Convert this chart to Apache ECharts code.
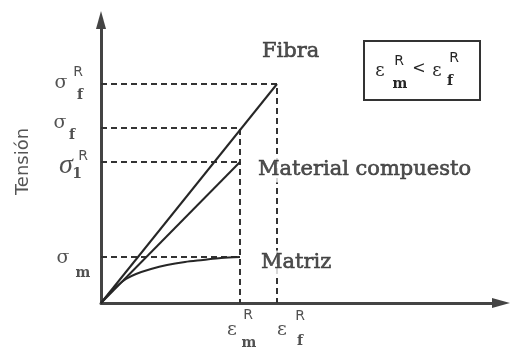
<!DOCTYPE html>
<html>
<head>
<meta charset="utf-8">
<script src="https://cdn.jsdelivr.net/npm/echarts@6/dist/echarts.min.js"></script>
<style>
  html, body { margin: 0; padding: 0; background: #fff; }
  #chart { width: 512px; height: 349px; }
</style>
</head>
<body>
<div id="chart"></div>
<script>
// Stress–strain curves (arbitrary units): fibre, composite and matrix
const fibra = [[0, 0], [176, 219]];
const compuesto = [[0, 0], [139, 141]];
const matriz = [[0, 0], [8, 9], [16, 17], [25, 24], [35, 29], [50, 34], [66, 38], [84, 41], [102, 43], [120, 45], [139, 46]];

// Characteristic stress levels and strains at failure
const yTickValues = [219, 175, 141, 46];
const yTickSymbols = [['σ', 'R', 'f'], ['σ', '', 'f'], ['σ', 'R', '1'], ['σ', '', 'm']];
const xTickValues = [139, 176];
const xTickSymbols = [['ε', 'R', 'm'], ['ε', 'R', 'f']];
const curveNames = ['Fibra', 'Material compuesto', 'Matriz'];
const axisTitle = 'Tensión';

// ---- layout (pixel offsets of glyphs around each tick anchor) ----
const yGlyphOffsets = [
  [[-40, -1], [-23, -12], [-21, 11]],
  [[-41, -5], null, [-29, 7]],
  [[-35, 4], [-18, -6], [-24, 12]],
  [[-38, 1], null, [-18, 16]]
];
const xGlyphOffsets = [
  [[-8, 27], [8, 12], [9, 40]],
  [[5, 27], [23, 13], [23, 38]]
];
const curveLabelAnchors = [[160, 251], [156, 133], [159, 40]];

const ink = '#262626';
const serif = 'DejaVu Serif';
const sans = 'DejaVu Sans';
const glyphStyle = {
  main: { fontFamily: serif, fontSize: 19 },
  big: { fontFamily: 'Liberation Serif', fontSize: 28, fontStyle: 'italic' },
  sup: { fontFamily: sans, fontSize: 14 },
  sub: { fontFamily: serif, fontSize: 14, fontWeight: 'bold' }
};

function glyph(text, value, off, style) {
  return {
    name: text,
    value: value,
    label: Object.assign({
      show: true, position: 'inside', offset: off,
      align: 'center', verticalAlign: 'middle', color: ink
    }, style)
  };
}

const glyphs = [];
yTickValues.forEach((v, i) => {
  const [m, sp, sb] = yTickSymbols[i];
  const off = yGlyphOffsets[i];
  glyphs.push(glyph(m, [0, v], off[0], i === 2 ? glyphStyle.big : glyphStyle.main));
  if (sp) glyphs.push(glyph(sp, [0, v], off[1], glyphStyle.sup));
  if (sb) glyphs.push(glyph(sb, [0, v], off[2], glyphStyle.sub));
});
xTickValues.forEach((v, i) => {
  const [m, sp, sb] = xTickSymbols[i];
  const off = xGlyphOffsets[i];
  glyphs.push(glyph(m, [v, 0], off[0], glyphStyle.main));
  glyphs.push(glyph(sp, [v, 0], off[1], glyphStyle.sup));
  glyphs.push(glyph(sb, [v, 0], off[2], glyphStyle.sub));
});
curveNames.forEach((n, i) => {
  glyphs.push({
    name: n,
    value: curveLabelAnchors[i],
    label: {
      show: true, position: 'inside', align: 'left', verticalAlign: 'middle',
      fontFamily: serif, fontSize: 21, color: ink,
      textBorderColor: ink, textBorderWidth: 0.6,
      backgroundColor: i === 0 ? 'transparent' : '#fff', padding: [2, 1]
    }
  });
});

// dashed guides from each level to its curve end and down to the strain axis
const guides = [
  [[0, yTickValues[0]], [xTickValues[1], yTickValues[0]], [xTickValues[1], 0]],
  [[0, yTickValues[1]], [xTickValues[0], yTickValues[1]], [xTickValues[0], 0]],
  [[0, yTickValues[2]], [xTickValues[0], yTickValues[2]]],
  [[0, yTickValues[3]], [xTickValues[0], yTickValues[3]]]
];

const dashed = { color: '#333', width: 2, type: [6, 4] };
const solid = { color: ink, width: 2 };

const series = [];
guides.forEach(g => series.push({
  type: 'line', data: g, symbol: 'none', lineStyle: dashed, silent: true, z: 1
}));
series.push({ type: 'line', data: fibra, symbol: 'none', lineStyle: solid, z: 2 });
series.push({ type: 'line', data: compuesto, symbol: 'none', lineStyle: solid, z: 2 });
series.push({ type: 'line', data: matriz, symbol: 'none', smooth: 0.3, lineStyle: solid, z: 2 });
series.push({
  type: 'scatter', data: glyphs, symbolSize: 0, silent: true, z: 5,
  label: { show: true, formatter: '{b}' }
});

const axisLineStyle = { color: '#444', width: 3 };

const chart = echarts.init(document.getElementById('chart'), null, { renderer: 'canvas' });
chart.setOption({
  animation: false,
  backgroundColor: '#fff',
  grid: { left: 101, right: 11, top: 20, bottom: 46 },
  xAxis: {
    type: 'value', min: 0, max: 400,
    axisLine: { show: true, lineStyle: axisLineStyle, symbol: ['none', 'triangle'], symbolSize: [10, 18] },
    axisTick: { show: false }, axisLabel: { show: false }, splitLine: { show: false }
  },
  yAxis: {
    type: 'value', min: 0, max: 283,
    name: axisTitle, nameLocation: 'middle', nameRotate: 90, nameGap: 69,
    nameTextStyle: { fontFamily: sans, fontSize: 18, color: '#555' },
    axisLine: { show: true, lineStyle: axisLineStyle, symbol: ['none', 'triangle'], symbolSize: [10, 18] },
    axisTick: { show: false }, axisLabel: { show: false }, splitLine: { show: false }
  },
  graphic: [{
    type: 'group', left: 363, top: 40,
    children: [
      { type: 'rect', shape: { x: 0, y: 0, width: 116, height: 59 }, style: { fill: '#fff', stroke: '#333', lineWidth: 2 } },
      { type: 'text', x: 16, y: 30, style: { text: 'ε', font: '18px "DejaVu Serif"', fill: ink, align: 'center', verticalAlign: 'middle' } },
      { type: 'text', x: 35, y: 20, style: { text: 'R', font: '14px "DejaVu Sans"', fill: ink, align: 'center', verticalAlign: 'middle' } },
      { type: 'text', x: 36, y: 43, style: { text: 'm', font: 'bold 14px "DejaVu Serif"', fill: ink, align: 'center', verticalAlign: 'middle' } },
      { type: 'text', x: 55, y: 28, style: { text: '<', font: '16px "DejaVu Serif"', fill: ink, align: 'center', verticalAlign: 'middle' } },
      { type: 'text', x: 73, y: 30, style: { text: 'ε', font: '18px "DejaVu Serif"', fill: ink, align: 'center', verticalAlign: 'middle' } },
      { type: 'text', x: 90, y: 17, style: { text: 'R', font: '14px "DejaVu Sans"', fill: ink, align: 'center', verticalAlign: 'middle' } },
      { type: 'text', x: 86, y: 40, style: { text: 'f', font: 'bold 14px "DejaVu Serif"', fill: ink, align: 'center', verticalAlign: 'middle' } }
    ]
  }],
  series: series
});
</script>
</body>
</html>
